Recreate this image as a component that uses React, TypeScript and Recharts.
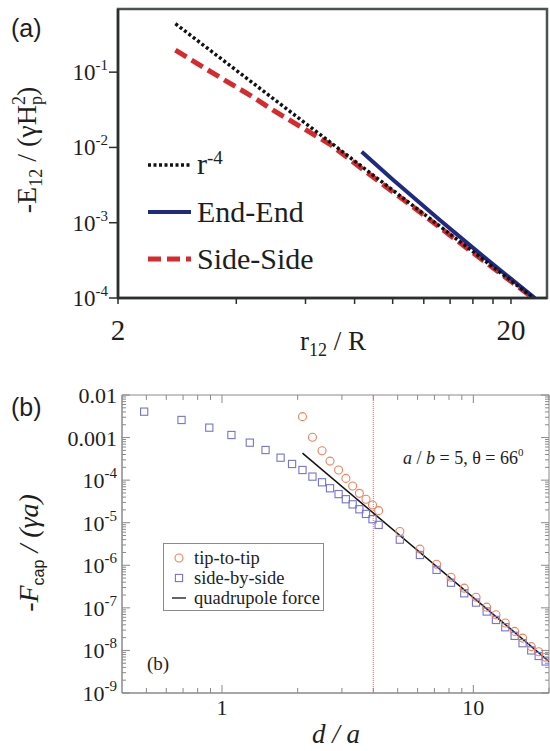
import React from "react";
import {
  ComposedChart,
  Line,
  Scatter,
  XAxis,
  YAxis,
  ReferenceArea,
  ReferenceLine,
  Legend,
} from "recharts";

const SERIF = '"Liberation Serif", "Times New Roman", serif';
const SANS = '"Liberation Sans", Arial, sans-serif';

// ---------- panel (a): pair energy vs separation ----------
const powerLawR = [2.8, 23];
const powerLawE = [0.44, 9.7e-5];
const endEndR = [8.34, 10, 13.2, 17, 23];
const endEndE = [8.75e-3, 3.74e-3, 1.08e-3, 3.57e-4, 1.0e-4];
const sideSideR = [2.8, 3.5, 4.33, 5.0, 6.93, 8.4, 11.3, 16, 23];
const sideSideE = [0.196, 0.096, 0.0496, 0.0305, 0.011, 5.1e-3, 1.6e-3, 4.0e-4, 9.6e-5];

const aXTicks = [2, 4, 6, 8, 10, 12, 14, 16, 18, 20];
const aXLabels = [2, 20];
const aYTicks = [1e-4, 1e-3, 1e-2, 1e-1];
const aYExponents = ["-4", "-3", "-2", "-1"];
const aOrder = ["r-4", "End-End", "Side-Side"];

// ---------- panel (b): capillary force vs distance ----------
const sideD = [0.49, 0.69, 0.89, 1.09, 1.29, 1.49, 1.71, 1.9, 2.09, 2.29, 2.5, 2.69, 2.91, 3.11, 3.31, 3.52, 3.74, 3.97, 4.2, 5.1, 6.13, 7.14, 8.15, 9.2, 10.25, 11.3, 12.3, 13.4, 14.6, 15.7, 17.0, 18.2, 19.4];
const sideF = [4.06e-3, 2.59e-3, 1.71e-3, 1.15e-3, 7.6e-4, 5.1e-4, 3.37e-4, 2.4e-4, 1.73e-4, 1.21e-4, 8.9e-5, 6.45e-5, 4.7e-5, 3.56e-5, 2.7e-5, 2.07e-5, 1.61e-5, 1.21e-5, 8.9e-6, 4.0e-6, 1.75e-6, 7.8e-7, 3.9e-7, 2.2e-7, 1.33e-7, 8.2e-8, 5.2e-8, 3.5e-8, 2.2e-8, 1.48e-8, 1.0e-8, 7.4e-9, 5.5e-9];
const tipD = [2.09, 2.29, 2.5, 2.69, 2.91, 3.11, 3.31, 3.52, 3.74, 3.97, 4.2, 5.1, 6.13, 7.14, 8.15, 9.2, 10.25, 11.3, 12.3, 13.4, 14.6, 15.7, 17.0, 18.2, 19.4];
const tipF = [3.1e-3, 1.02e-3, 4.9e-4, 2.8e-4, 1.73e-4, 1.1e-4, 7.3e-5, 4.9e-5, 3.56e-5, 2.6e-5, 1.92e-5, 6.2e-6, 2.4e-6, 1.06e-6, 5.25e-7, 2.9e-7, 1.78e-7, 1.04e-7, 6.9e-8, 4.4e-8, 2.8e-8, 1.95e-8, 1.23e-8, 9.3e-9, 6.9e-9];
const quadD = [2.09, 20];
const quadF = [4.3e-4, 5.5e-9];

const bXMajor = [1, 10];
const bXMinor = [0.5, 0.6, 0.7, 0.8, 0.9, 2, 3, 4, 5, 6, 7, 8, 9, 20];
const bYMajor = [1e-9, 1e-8, 1e-7, 1e-6, 1e-5, 1e-4, 1e-3, 1e-2];
const bYBase = ["10", "10", "10", "10", "10", "10", "0.001", "0.01"];
const bYExp = ["-9", "-8", "-7", "-6", "-5", "-4", "", ""];
const bYMinor = bYMajor.slice(0, -1).flatMap((p) => [2, 3, 4, 5, 6, 7, 8, 9].map((m) => m * p));
const bOrder = ["tip-to-tip", "side-by-side", "quadrupole force"];

const zip = (xs: number[], ys: number[]) => xs.map((x, i) => ({ x, y: ys[i] }));

// geometry of the lower plot box (for the mirrored top / right ticks)
const B_PLOT_W = 427;
const B_PLOT_H = 298;

const A_AXIS = "#2b2f2f";
const B_AXIS = "#8a8a8a";
const TIP_COLOR = "#f0805e";
const SIDE_COLOR = "#7474d4";

const aStyles: Record<string, any> = {
  "r-4": { stroke: "#111", strokeWidth: 3.5, strokeDasharray: "3 2.5" },
  "End-End": { stroke: "#1e2a80", strokeWidth: 4 },
  "Side-Side": { stroke: "#d62a2e", strokeWidth: 5, strokeDasharray: "13 6" },
};

function ATickX(props: any) {
  const { x, y, payload } = props;
  const v = payload.value;
  return (
    <g>
      <line x1={x} x2={x} y1={y} y2={y + 6} stroke={A_AXIS} strokeWidth={1.5} />
      {aXLabels.includes(v) ? (
        <text x={x} y={y + 42} textAnchor="middle" style={{ fontFamily: SERIF }} fontSize={29} fill="#1e1e1e">
          {v}
        </text>
      ) : null}
    </g>
  );
}

function ATickY(props: any) {
  const { x, y, payload } = props;
  const exp = aYExponents[aYTicks.indexOf(payload.value)];
  return (
    <g>
      <line x1={x - 9} x2={x} y1={y} y2={y} stroke={A_AXIS} strokeWidth={1.5} />
      <text x={x - 10} y={y + 8} textAnchor="end" style={{ fontFamily: SERIF }} fontSize={23} fill="#1e1e1e">
        10
        <tspan dy={-10} fontSize={15}>
          {exp}
        </tspan>
      </text>
    </g>
  );
}

function BTickX(props: any) {
  const { x, y, payload } = props;
  const v = payload.value;
  const major = bXMajor.includes(v);
  const len = major ? 8 : 5;
  return (
    <g>
      <line x1={x} x2={x} y1={y} y2={y - len} stroke={B_AXIS} strokeWidth={1} />
      <line x1={x} x2={x} y1={y - B_PLOT_H} y2={y - B_PLOT_H + len} stroke={B_AXIS} strokeWidth={1} />
      {major ? (
        <text x={x} y={y + 22} textAnchor="middle" style={{ fontFamily: SERIF }} fontSize={22} fill="#1e1e1e">
          {v}
        </text>
      ) : null}
    </g>
  );
}

function BTickY(props: any) {
  const { x, y, payload } = props;
  const idx = bYMajor.indexOf(payload.value);
  const major = idx >= 0;
  const len = major ? 8 : 4;
  return (
    <g>
      <line x1={x} x2={x + len} y1={y} y2={y} stroke={B_AXIS} strokeWidth={1} />
      <line x1={x + B_PLOT_W} x2={x + B_PLOT_W - len} y1={y} y2={y} stroke={B_AXIS} strokeWidth={1} />
      {major ? (
        <text x={x - 5} y={y + 8} textAnchor="end" style={{ fontFamily: SERIF }} fontSize={22} fill="#1e1e1e">
          {bYBase[idx]}
          {bYExp[idx] ? (
            <tspan dy={-10} fontSize={15}>
              {bYExp[idx]}
            </tspan>
          ) : null}
        </text>
      ) : null}
    </g>
  );
}

function ALegend(props: any) {
  const items = [...(props.payload ?? [])].sort(
    (p: any, q: any) => aOrder.indexOf(p.value) - aOrder.indexOf(q.value)
  );
  return (
    <div>
      {items.map((it: any) => (
        <div key={it.value} style={{ display: "flex", alignItems: "center", height: 47 }}>
          <svg width={46} height={10}>
            <line x1={1} x2={44} y1={5} y2={5} {...aStyles[it.value]} />
          </svg>
          <span style={{ marginLeft: 4, fontFamily: SERIF, fontSize: 30, color: "#1e1e1e", whiteSpace: "nowrap" }}>
            {it.value === "r-4" ? (
              <>
                r<sup style={{ fontSize: 19, verticalAlign: "0.55em" }}>-4</sup>
              </>
            ) : (
              it.value
            )}
          </span>
        </div>
      ))}
    </div>
  );
}

function BLegend(props: any) {
  const items = [...(props.payload ?? [])].sort(
    (p: any, q: any) => bOrder.indexOf(p.value) - bOrder.indexOf(q.value)
  );
  return (
    <div
      style={{
        width: 159,
        height: 62,
        border: `1px solid ${B_AXIS}`,
        background: "#fff",
        paddingTop: 4,
        boxSizing: "content-box",
      }}
    >
      {items.map((it: any) => (
        <div key={it.value} style={{ display: "flex", alignItems: "center", height: 20 }}>
          <svg width={30} height={12}>
            {it.value === "tip-to-tip" ? (
              <circle cx={15} cy={6} r={4} fill="none" stroke={TIP_COLOR} strokeWidth={1.1} />
            ) : it.value === "side-by-side" ? (
              <rect x={11.4} y={2.4} width={7.2} height={7.2} fill="none" stroke={SIDE_COLOR} strokeWidth={1.1} />
            ) : (
              <line x1={8} x2={22} y1={6} y2={6} stroke="#111" strokeWidth={1.3} />
            )}
          </svg>
          <span style={{ fontFamily: SERIF, fontSize: 18.5, color: "#1e1e1e", whiteSpace: "nowrap" }}>{it.value}</span>
        </div>
      ))}
    </div>
  );
}

const TipMarker = (p: any) => (
  <circle cx={p.cx} cy={p.cy} r={4} fill="none" stroke={TIP_COLOR} strokeWidth={1.1} />
);
const SideMarker = (p: any) => (
  <rect x={p.cx - 3.6} y={p.cy - 3.6} width={7.2} height={7.2} fill="none" stroke={SIDE_COLOR} strokeWidth={1.1} />
);

function PanelA() {
  return (
    <ComposedChart width={550} height={370} margin={{ top: 9, right: 3, bottom: 12, left: 8 }}>
      <ReferenceArea x1={2} x2={24.7} y1={1e-4} y2={0.69} fill="none" stroke="#4a5252" strokeWidth={2.5} />
      <XAxis
        dataKey="x"
        type="number"
        scale="log"
        domain={[2, 24.7]}
        allowDataOverflow
        ticks={aXTicks}
        interval={0}
        height={60}
        tickLine={false}
        tickSize={0}
        tickMargin={0}
        axisLine={{ stroke: A_AXIS, strokeWidth: 2.5 }}
        tick={(p: any) => <ATickX {...p} />}
      />
      <YAxis
        dataKey="y"
        type="number"
        scale="log"
        domain={[1e-4, 0.69]}
        allowDataOverflow
        ticks={aYTicks}
        interval={0}
        width={110}
        tickLine={false}
        tickSize={0}
        tickMargin={0}
        axisLine={{ stroke: A_AXIS, strokeWidth: 2.5 }}
        tick={(p: any) => <ATickY {...p} />}
      />
      <Line
        name="Side-Side"
        data={zip(sideSideR, sideSideE)}
        dataKey="y"
        dot={false}
        isAnimationActive={false}
        legendType="line"
        {...aStyles["Side-Side"]}
      />
      <Line
        name="End-End"
        data={zip(endEndR, endEndE)}
        dataKey="y"
        dot={false}
        isAnimationActive={false}
        legendType="line"
        {...aStyles["End-End"]}
      />
      <Line
        name="r-4"
        data={zip(powerLawR, powerLawE)}
        dataKey="y"
        dot={false}
        isAnimationActive={false}
        legendType="line"
        {...aStyles["r-4"]}
      />
      <Legend
        layout="vertical"
        align="center"
        verticalAlign="middle"
        content={(p: any) => <ALegend {...p} />}
        wrapperStyle={{ left: 147, top: 141, width: "auto" }}
      />
    </ComposedChart>
  );
}

function PanelB() {
  return (
    <ComposedChart width={550} height={381} margin={{ top: 25, right: 1, bottom: 8, left: 12 }}>
      <ReferenceArea x1={0.4} x2={20} y1={1e-9} y2={1e-2} fill="none" stroke={B_AXIS} strokeWidth={1} />
      <XAxis
        dataKey="x"
        type="number"
        scale="log"
        domain={[0.4, 20]}
        allowDataOverflow
        ticks={[...bXMinor, ...bXMajor].sort((a, b) => a - b)}
        interval={0}
        height={50}
        tickLine={false}
        tickSize={0}
        tickMargin={0}
        axisLine={{ stroke: B_AXIS, strokeWidth: 1 }}
        tick={(p: any) => <BTickX {...p} />}
      />
      <YAxis
        dataKey="y"
        type="number"
        scale="log"
        domain={[1e-9, 1e-2]}
        allowDataOverflow
        ticks={[...bYMinor, ...bYMajor].sort((a, b) => a - b)}
        interval={0}
        width={110}
        tickLine={false}
        tickSize={0}
        tickMargin={0}
        axisLine={{ stroke: B_AXIS, strokeWidth: 1 }}
        tick={(p: any) => <BTickY {...p} />}
      />
      <ReferenceLine x={4} stroke="#f07e62" strokeWidth={1.2} strokeDasharray="1 1" />
      <Scatter
        name="side-by-side"
        data={zip(sideD, sideF)}
        legendType="square"
        fill={SIDE_COLOR}
        shape={(p: any) => <SideMarker {...p} />}
        isAnimationActive={false}
      />
      <Scatter
        name="tip-to-tip"
        data={zip(tipD, tipF)}
        legendType="circle"
        fill={TIP_COLOR}
        shape={(p: any) => <TipMarker {...p} />}
        isAnimationActive={false}
      />
      <Line
        name="quadrupole force"
        data={zip(quadD, quadF)}
        dataKey="y"
        dot={false}
        stroke="#111"
        strokeWidth={1.5}
        legendType="line"
        isAnimationActive={false}
      />
      <Legend
        layout="vertical"
        align="center"
        verticalAlign="middle"
        content={(p: any) => <BLegend {...p} />}
        wrapperStyle={{ left: 163, top: 173, width: "auto" }}
      />
    </ComposedChart>
  );
}

export default function App() {
  return (
    <div style={{ position: "absolute", left: 0, top: 0, width: 550, height: 751, background: "#fff" }}>
      <div style={{ position: "absolute", left: 0, top: 0 }}>
        <PanelA />
      </div>
      <div style={{ position: "absolute", left: 0, top: 370 }}>
        <PanelB />
      </div>
      <svg
        width={550}
        height={751}
        style={{ position: "absolute", left: 0, top: 0, pointerEvents: "none" }}
      >
        <g fill="#1e1e1e">
          <text x={11} y={37} fontFamily={SANS} fontSize={25}>
            (a)
          </text>
          <text transform="translate(36,150) rotate(-90)" textAnchor="middle" fontFamily={SERIF} fontSize={28}>
            -E
            <tspan dy={6} fontSize={18}>
              12
            </tspan>
            <tspan dy={-6}>{" / (\u03b3H"}</tspan>
            <tspan dy={6} fontSize={18}>
              p
            </tspan>
            <tspan dx={-9} dy={-17} fontSize={18}>
              2
            </tspan>
            <tspan dy={11}>)</tspan>
          </text>
          <text x={300} y={350} fontFamily={SERIF} fontSize={27}>
            r
            <tspan dy={6} fontSize={18}>
              12
            </tspan>
            <tspan dy={-6}>{" / R"}</tspan>
          </text>

          <text x={11} y={416} fontFamily={SANS} fontSize={25}>
            (b)
          </text>
          <text transform="translate(38,553) rotate(-90)" textAnchor="middle" fontFamily={SERIF} fontSize={28}>
            <tspan fontStyle="italic">-F</tspan>
            <tspan dy={6} fontSize={16} fontFamily={SANS}>
              cap
            </tspan>
            <tspan dy={-6} fontStyle="italic">
              {" / (\u03b3a)"}
            </tspan>
          </text>
          <text x={336} y={743} textAnchor="middle" fontFamily={SERIF} fontSize={27} fontStyle="italic">
            d / a
          </text>
          <text x={403} y={464} fontFamily={SERIF} fontSize={18}>
            <tspan fontStyle="italic">a</tspan>
            {" / "}
            <tspan fontStyle="italic">b</tspan>
            {" = 5, \u03b8 = 66"}
            <tspan dy={-8} fontSize={11}>
              0
            </tspan>
          </text>
          <text x={147} y={670} fontFamily={SERIF} fontSize={19}>
            (b)
          </text>
        </g>
      </svg>
    </div>
  );
}
